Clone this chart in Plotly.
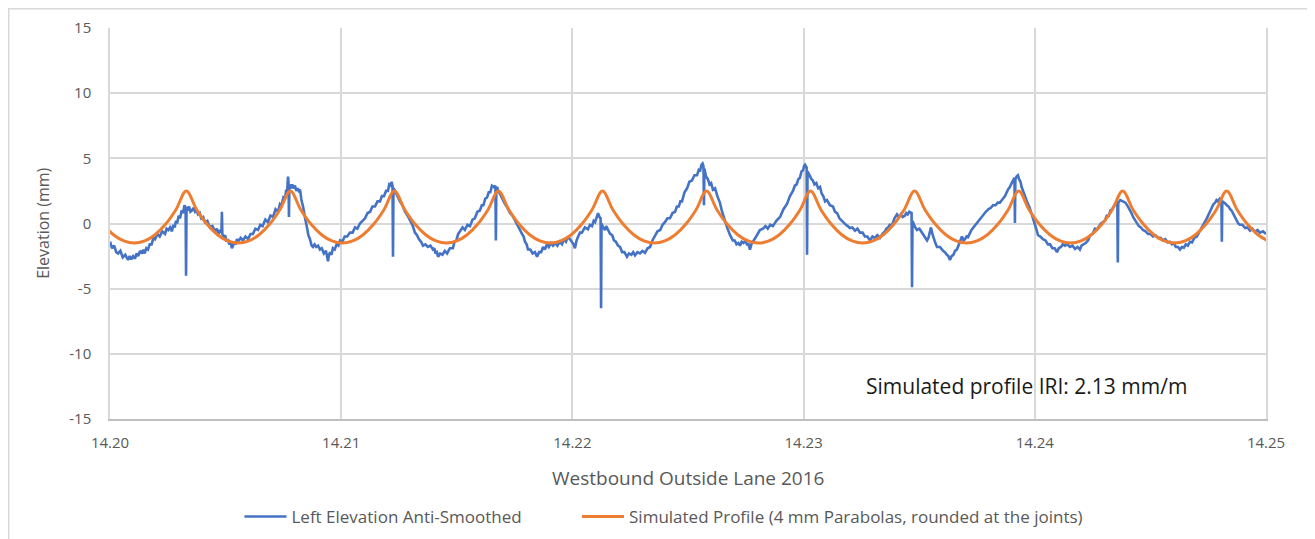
import plotly.graph_objects as go

# ---------------- data ----------------
left_x = [
    14.20000, 14.20009, 14.20018, 14.20027, 14.20035, 14.20045, 14.20055, 14.20066, 14.20078, 14.20085,
    14.20092, 14.20100, 14.20108, 14.20115, 14.20122, 14.20130, 14.20138, 14.20144, 14.20150, 14.20157,
    14.20164, 14.20172, 14.20180, 14.20188, 14.20195, 14.20205, 14.20215, 14.20226, 14.20238, 14.20245,
    14.20252, 14.20260, 14.20268, 14.20274, 14.20280, 14.20285, 14.20290, 14.20297, 14.20303, 14.20310,
    14.20316, 14.20322, 14.20327, 14.20329, 14.20331, 14.20336, 14.20342, 14.20348, 14.20355, 14.20361,
    14.20368, 14.20374, 14.20381, 14.20388, 14.20395, 14.20403, 14.20411, 14.20421, 14.20432, 14.20443,
    14.20454, 14.20462, 14.20470, 14.20476, 14.20482, 14.20484, 14.20486, 14.20492, 14.20498, 14.20504,
    14.20510, 14.20516, 14.20522, 14.20527, 14.20532, 14.20538, 14.20544, 14.20549, 14.20554, 14.20565,
    14.20575, 14.20586, 14.20597, 14.20608, 14.20618, 14.20629, 14.20640, 14.20650, 14.20660, 14.20672,
    14.20683, 14.20694, 14.20705, 14.20716, 14.20727, 14.20735, 14.20742, 14.20750, 14.20757, 14.20762,
    14.20766, 14.20770, 14.20772, 14.20774, 14.20776, 14.20782, 14.20788, 14.20794, 14.20800, 14.20806,
    14.20812, 14.20817, 14.20822, 14.20828, 14.20835, 14.20840, 14.20845, 14.20852, 14.20858, 14.20865,
    14.20872, 14.20878, 14.20885, 14.20892, 14.20900, 14.20908, 14.20916, 14.20925, 14.20934, 14.20943,
    14.20947, 14.20952, 14.20958, 14.20964, 14.20972, 14.20980, 14.20988, 14.20995, 14.21005, 14.21015,
    14.21026, 14.21038, 14.21049, 14.21060, 14.21070, 14.21081, 14.21092, 14.21103, 14.21114, 14.21125,
    14.21135, 14.21146, 14.21157, 14.21168, 14.21176, 14.21185, 14.21194, 14.21202, 14.21208, 14.21215,
    14.21218, 14.21222, 14.21224, 14.21226, 14.21233, 14.21240, 14.21247, 14.21254, 14.21265, 14.21276,
    14.21287, 14.21298, 14.21308, 14.21319, 14.21328, 14.21336, 14.21345, 14.21354, 14.21364, 14.21375,
    14.21386, 14.21397, 14.21403, 14.21408, 14.21414, 14.21419, 14.21428, 14.21438, 14.21448, 14.21458,
    14.21470, 14.21483, 14.21490, 14.21498, 14.21506, 14.21514, 14.21525, 14.21535, 14.21546, 14.21557,
    14.21568, 14.21578, 14.21589, 14.21600, 14.21608, 14.21615, 14.21623, 14.21631, 14.21638, 14.21645,
    14.21652, 14.21660, 14.21667, 14.21669, 14.21671, 14.21675, 14.21678, 14.21686, 14.21693, 14.21700,
    14.21708, 14.21719, 14.21730, 14.21741, 14.21752, 14.21767, 14.21782, 14.21789, 14.21795, 14.21802,
    14.21808, 14.21818, 14.21828, 14.21838, 14.21847, 14.21856, 14.21865, 14.21873, 14.21881, 14.21890,
    14.21898, 14.21907, 14.21916, 14.21926, 14.21935, 14.21945, 14.21955, 14.21963, 14.21972, 14.21981,
    14.21990, 14.22000, 14.22005, 14.22011, 14.22018, 14.22025, 14.22033, 14.22041, 14.22054, 14.22067,
    14.22076, 14.22085, 14.22092, 14.22098, 14.22105, 14.22111, 14.22117, 14.22122, 14.22124, 14.22126,
    14.22133, 14.22141, 14.22146, 14.22150, 14.22156, 14.22163, 14.22172, 14.22180, 14.22188, 14.22197,
    14.22206, 14.22215, 14.22225, 14.22236, 14.22245, 14.22255, 14.22263, 14.22271, 14.22281, 14.22292,
    14.22303, 14.22314, 14.22325, 14.22336, 14.22346, 14.22357, 14.22368, 14.22380, 14.22390, 14.22400,
    14.22411, 14.22422, 14.22433, 14.22444, 14.22452, 14.22460, 14.22467, 14.22474, 14.22485, 14.22496,
    14.22506, 14.22517, 14.22528, 14.22539, 14.22546, 14.22552, 14.22558, 14.22563, 14.22567, 14.22569,
    14.22571, 14.22578, 14.22586, 14.22593, 14.22600, 14.22608, 14.22617, 14.22627, 14.22638, 14.22646,
    14.22655, 14.22662, 14.22669, 14.22682, 14.22694, 14.22702, 14.22710, 14.22718, 14.22725, 14.22732,
    14.22740, 14.22748, 14.22755, 14.22762, 14.22768, 14.22774, 14.22780, 14.22789, 14.22798, 14.22811,
    14.22824, 14.22835, 14.22845, 14.22856, 14.22867, 14.22882, 14.22898, 14.22913, 14.22928, 14.22941,
    14.22954, 14.22962, 14.22970, 14.22977, 14.22984, 14.22991, 14.22998, 14.23002, 14.23006, 14.23013,
    14.23015, 14.23017, 14.23022, 14.23028, 14.23034, 14.23040, 14.23047, 14.23055, 14.23063, 14.23071,
    14.23078, 14.23085, 14.23093, 14.23101, 14.23114, 14.23127, 14.23136, 14.23145, 14.23155, 14.23166,
    14.23175, 14.23183, 14.23191, 14.23200, 14.23211, 14.23222, 14.23233, 14.23244, 14.23255, 14.23265,
    14.23276, 14.23287, 14.23298, 14.23308, 14.23319, 14.23330, 14.23341, 14.23352, 14.23358, 14.23365,
    14.23373, 14.23382, 14.23393, 14.23404, 14.23412, 14.23420, 14.23429, 14.23438, 14.23444, 14.23450,
    14.23457, 14.23464, 14.23467, 14.23469, 14.23471, 14.23480, 14.23490, 14.23501, 14.23512, 14.23523,
    14.23534, 14.23540, 14.23545, 14.23551, 14.23557, 14.23563, 14.23570, 14.23577, 14.23590, 14.23603,
    14.23611, 14.23620, 14.23626, 14.23633, 14.23640, 14.23648, 14.23655, 14.23663, 14.23674, 14.23685,
    14.23692, 14.23698, 14.23705, 14.23711, 14.23726, 14.23741, 14.23750, 14.23760, 14.23768, 14.23776,
    14.23788, 14.23800, 14.23810, 14.23819, 14.23830, 14.23840, 14.23849, 14.23858, 14.23871, 14.23884,
    14.23892, 14.23900, 14.23906, 14.23912, 14.23914, 14.23916, 14.23921, 14.23927, 14.23932, 14.23938,
    14.23943, 14.23949, 14.23958, 14.23968, 14.23978, 14.23988, 14.24001, 14.24014, 14.24024, 14.24035,
    14.24046, 14.24057, 14.24066, 14.24076, 14.24086, 14.24096, 14.24104, 14.24113, 14.24121, 14.24130,
    14.24141, 14.24152, 14.24163, 14.24174, 14.24185, 14.24195, 14.24202, 14.24210, 14.24220, 14.24230,
    14.24240, 14.24250, 14.24260, 14.24269, 14.24286, 14.24303, 14.24311, 14.24320, 14.24327, 14.24334,
    14.24345, 14.24355, 14.24357, 14.24359, 14.24361, 14.24370, 14.24381, 14.24392, 14.24403, 14.24410,
    14.24418, 14.24425, 14.24433, 14.24441, 14.24450, 14.24459, 14.24468, 14.24479, 14.24490, 14.24500,
    14.24511, 14.24522, 14.24533, 14.24544, 14.24554, 14.24564, 14.24575, 14.24584, 14.24593, 14.24601,
    14.24610, 14.24619, 14.24628, 14.24636, 14.24645, 14.24653, 14.24662, 14.24671, 14.24680, 14.24690,
    14.24701, 14.24710, 14.24720, 14.24728, 14.24736, 14.24744, 14.24752, 14.24759, 14.24766, 14.24773,
    14.24780, 14.24786, 14.24792, 14.24800, 14.24807, 14.24809, 14.24811, 14.24820, 14.24831, 14.24838,
    14.24845, 14.24851, 14.24857, 14.24865, 14.24872, 14.24880, 14.24887, 14.24898, 14.24910, 14.24920,
    14.24931, 14.24941, 14.24952, 14.24963, 14.24974, 14.24987, 14.25000,
]
left_y = [
    -1.4, -1.9, -1.7, -2.2, -2.3, -2.1, -2.6, -2.4, -2.8, -2.5,
    -2.75, -2.5, -2.7, -2.3, -2.5, -2.1, -2.3, -2.0, -2.3, -1.9,
    -2.0, -1.6, -1.6, -1.1, -1.2, -0.8, -1.0, -0.6, -0.8, -0.4,
    -0.5, -0.3, -0.6, -0.1, -0.3, 0.2, 0.0, 0.6, 0.4, 1.0,
    0.8, 1.4, 1.2, -4.0, 1.3, 1.0, 1.3, 0.9, 1.0, 1.2,
    0.9, 1.0, 0.7, 0.8, 0.4, 0.5, 0.1, 0.2, -0.3, -0.2,
    -0.6, -0.4, -0.8, -0.5, -0.7, 0.9, -0.8, -1.1, -0.9, -1.4,
    -1.2, -1.6, -1.4, -1.9, -1.7, -1.4, -1.6, -1.2, -1.4, -1.1,
    -1.3, -1.0, -1.2, -0.8, -0.8, -0.4, -0.5, -0.1, -0.2, 0.3,
    0.1, 0.6, 0.5, 1.1, 0.9, 1.5, 1.4, 2.0, 1.9, 2.6,
    2.4, 3.6, 3.2, 0.5, 3.0, 2.7, 3.0, 2.7, 2.9, 2.5,
    2.7, 2.5, 2.6, 1.8, 1.3, 0.6, 0.3, -0.3, -0.9, -1.2,
    -1.7, -1.8, -1.6, -1.8, -1.7, -2.0, -1.9, -2.3, -2.1, -2.9,
    -2.4, -2.2, -2.4, -1.9, -2.0, -1.6, -1.7, -1.3, -1.4, -1.0,
    -1.0, -0.7, -0.7, -0.3, -0.4, 0.0, 0.2, 0.4, 0.8, 0.9,
    1.3, 1.3, 1.7, 1.7, 2.1, 2.1, 2.5, 2.5, 3.0, 2.9,
    3.2, 2.9, -2.55, 2.7, 2.5, 2.2, 2.0, 1.7, 1.4, 0.9,
    0.6, 0.2, -0.1, -0.7, -0.9, -1.2, -1.4, -1.7, -1.6, -1.8,
    -1.7, -2.0, -1.9, -2.3, -2.2, -2.55, -2.3, -2.4, -2.1, -2.3,
    -1.9, -1.9, -1.4, -1.3, -0.8, -0.6, -0.3, -0.5, -0.1, -0.2,
    0.3, 0.4, 0.9, 1.0, 1.4, 1.4, 1.9, 2.0, 2.4, 2.4,
    2.9, 2.8, 2.9, -1.3, 2.7, 2.8, 2.5, 2.3, 2.0, 1.8,
    1.5, 1.2, 0.8, 0.6, 0.2, -0.3, -0.8, -1.0, -1.4, -1.6,
    -2.0, -2.0, -2.3, -2.2, -2.55, -2.2, -2.2, -1.8, -2.0, -1.6,
    -1.8, -1.5, -1.7, -1.5, -1.7, -1.4, -1.6, -1.2, -1.4, -1.0,
    -1.2, -1.4, -1.6, -1.9, -1.3, -1.0, -0.7, -0.7, -0.3, -0.45,
    -0.1, -0.2, 0.2, 0.1, 0.5, 0.8, 0.5, 0.4, -6.5, 0.0,
    -0.3, -0.5, -0.2, -0.35, -0.5, -0.8, -0.9, -1.3, -1.4, -1.7,
    -1.8, -2.2, -2.2, -2.55, -2.3, -2.4, -2.2, -2.45, -2.2, -2.3,
    -2.1, -2.25, -1.9, -1.8, -1.3, -1.0, -0.6, -0.5, -0.1, 0.1,
    0.4, 0.4, 0.8, 0.9, 1.3, 1.3, 1.7, 1.7, 2.4, 2.7,
    3.2, 3.3, 3.7, 3.7, 4.1, 4.0, 4.5, 4.6, 4.4, 1.4,
    4.2, 3.6, 3.4, 3.0, 3.1, 2.6, 2.7, 2.1, 1.6, 1.0,
    0.5, 0.0, -0.3, -0.9, -1.3, -1.3, -1.6, -1.5, -1.7, -1.4,
    -1.5, -1.3, -1.6, -1.6, -2.0, -1.6, -1.4, -1.1, -0.9, -0.5,
    -0.4, -0.2, -0.4, -0.1, -0.2, 0.2, 0.5, 1.1, 1.5, 2.1,
    2.5, 2.9, 3.0, 3.4, 3.5, 4.0, 4.1, 4.4, 4.5, 4.3,
    -2.4, 4.0, 3.8, 3.6, 3.4, 3.3, 3.0, 3.1, 2.7, 2.8,
    2.3, 2.1, 1.7, 1.8, 1.4, 1.3, 0.9, 0.8, 0.4, 0.2,
    0.0, -0.1, -0.2, -0.35, -0.3, -0.55, -0.4, -0.7, -0.7, -1.0,
    -1.0, -1.3, -1.0, -1.1, -0.9, -1.1, -0.8, -0.6, -0.4, -0.3,
    -0.1, -0.15, 0.4, 0.7, 0.5, 0.7, 0.5, 0.6, 0.8, 0.7,
    0.9, 0.85, 0.8, -4.9, 0.2, -0.2, -0.5, -0.4, -0.7, -0.9,
    -1.3, -1.1, -0.8, -0.3, -0.8, -1.2, -1.5, -1.8, -1.8, -2.1,
    -2.2, -2.4, -2.5, -2.8, -2.5, -2.4, -2.1, -2.0, -1.5, -1.0,
    -1.3, -1.2, -1.0, -1.05, -0.5, -0.15, 0.1, 0.3, 0.5, 0.7,
    0.9, 1.1, 1.2, 1.4, 1.4, 1.6, 1.6, 1.8, 2.1, 2.6,
    2.8, 3.1, 3.3, 3.5, 0.04, 3.4, 3.6, 3.7, 3.4, 3.2,
    2.8, 2.5, 2.0, 1.6, 1.2, 0.7, -0.1, -0.9, -1.0, -1.2,
    -1.3, -1.6, -1.6, -1.9, -1.9, -2.2, -1.9, -1.8, -1.6, -1.7,
    -1.6, -1.8, -1.7, -1.95, -1.8, -2.0, -1.7, -1.6, -1.5, -1.3,
    -0.9, -0.8, -0.4, -0.45, 0.0, 0.2, 0.6, 0.6, 1.0, 1.1,
    1.4, 1.7, 1.6, -3.0, 1.6, 1.8, 1.7, 1.6, 1.3, 1.1,
    0.8, 0.5, 0.25, 0.0, -0.2, -0.3, -0.5, -0.6, -0.8, -0.8,
    -1.0, -0.9, -1.1, -1.1, -1.3, -1.2, -1.45, -1.4, -1.6, -1.5,
    -1.8, -1.8, -2.0, -1.8, -1.85, -1.6, -1.7, -1.4, -1.45, -1.1,
    -1.0, -0.7, -0.4, -0.1, 0.1, 0.4, 0.7, 1.0, 1.3, 1.5,
    1.6, 1.8, 1.7, 1.9, 1.8, -1.4, 1.7, 1.6, 1.4, 1.3,
    1.1, 1.0, 0.8, 0.5, 0.3, 0.0, -0.1, -0.1, -0.35, -0.3,
    -0.55, -0.4, -0.65, -0.5, -0.7, -0.6, -0.8,
]

sim_x = [
    14.19970, 14.20015, 14.20060, 14.20105, 14.20150, 14.20195, 14.20240, 14.20285,
    14.20330, 14.20375, 14.20420, 14.20465, 14.20510, 14.20555, 14.20600, 14.20645, 14.20690, 14.20735,
    14.20780, 14.20825, 14.20870, 14.20915, 14.20960, 14.21005, 14.21050, 14.21095, 14.21140, 14.21185,
    14.21230, 14.21275, 14.21320, 14.21365, 14.21410, 14.21455, 14.21500, 14.21545, 14.21590, 14.21635,
    14.21680, 14.21725, 14.21770, 14.21815, 14.21860, 14.21905, 14.21950, 14.21995, 14.22040, 14.22085,
    14.22130, 14.22175, 14.22220, 14.22265, 14.22310, 14.22355, 14.22400, 14.22445, 14.22490, 14.22535,
    14.22580, 14.22625, 14.22670, 14.22715, 14.22760, 14.22805, 14.22850, 14.22895, 14.22940, 14.22985,
    14.23030, 14.23075, 14.23120, 14.23165, 14.23210, 14.23255, 14.23300, 14.23345, 14.23390, 14.23435,
    14.23480, 14.23525, 14.23570, 14.23615, 14.23660, 14.23705, 14.23750, 14.23795, 14.23840, 14.23885,
    14.23930, 14.23975, 14.24020, 14.24065, 14.24110, 14.24155, 14.24200, 14.24245, 14.24290, 14.24335,
    14.24380, 14.24425, 14.24470, 14.24515, 14.24560, 14.24605, 14.24650, 14.24695, 14.24740, 14.24785,
    14.24830, 14.24875, 14.24920, 14.24965, 14.25010,
]
sim_y = [
    -0.06, -0.86, -1.34, -1.5, -1.34, -0.86, -0.06, 1.06,
    2.5, 1.06, -0.06, -0.86, -1.34, -1.5, -1.34, -0.86, -0.06, 1.06,
    2.5, 1.06, -0.06, -0.86, -1.34, -1.5, -1.34, -0.86, -0.06, 1.06,
    2.5, 1.06, -0.06, -0.86, -1.34, -1.5, -1.34, -0.86, -0.06, 1.06,
    2.5, 1.06, -0.06, -0.86, -1.34, -1.5, -1.34, -0.86, -0.06, 1.06,
    2.5, 1.06, -0.06, -0.86, -1.34, -1.5, -1.34, -0.86, -0.06, 1.06,
    2.5, 1.06, -0.06, -0.86, -1.34, -1.5, -1.34, -0.86, -0.06, 1.06,
    2.5, 1.06, -0.06, -0.86, -1.34, -1.5, -1.34, -0.86, -0.06, 1.06,
    2.5, 1.06, -0.06, -0.86, -1.34, -1.5, -1.34, -0.86, -0.06, 1.06,
    2.5, 1.06, -0.06, -0.86, -1.34, -1.5, -1.34, -0.86, -0.06, 1.06,
    2.5, 1.06, -0.06, -0.86, -1.34, -1.5, -1.34, -0.86, -0.06, 1.06,
    2.5, 1.06, -0.06, -0.86, -1.34,
]
assert len(left_x) == len(left_y)
assert len(sim_x) == len(sim_y)

x_ticks = [14.20, 14.21, 14.22, 14.23, 14.24, 14.25]
x_tick_labels = ["14.20", "14.21", "14.22", "14.23", "14.24", "14.25"]
y_ticks = [-15, -10, -5, 0, 5, 10, 15]
y_tick_labels = ["-15", "-10", "-5", "0", "5", "10", "15"]

series_names = [
    "Left Elevation Anti-Smoothed",
    "Simulated Profile (4 mm Parabolas, rounded at the joints)",
]
x_title = "Westbound Outside Lane 2016"
y_title = "Elevation (mm)"
iri_note = "Simulated profile IRI: 2.13 mm/m"

# ---------------- figure ----------------
FONT = "Open Sans, Liberation Sans, sans-serif"
GREY_TXT = "#595959"
GRID = "#d9d9d9"

fig = go.Figure()
fig.add_trace(go.Scatter(
    x=left_x, y=left_y, mode="lines", name=series_names[0],
    line=dict(color="#4472C4", width=2.6), legend="legend",
))
fig.add_trace(go.Scatter(
    x=sim_x, y=sim_y, mode="lines", name=series_names[1],
    line=dict(color="#ED7D31", width=3.0, shape="spline", smoothing=1.0),
    legend="legend2",
))

legend_common = dict(
    orientation="h", xanchor="left", yref="container", y=0.0414, yanchor="middle",
    font=dict(size=17, color=GREY_TXT), bgcolor="rgba(0,0,0,0)",
    itemwidth=42,
)

fig.update_layout(
    width=1307, height=531,
    margin=dict(l=102, r=49, t=20, b=120, autoexpand=False),
    paper_bgcolor="white", plot_bgcolor="white",
    font=dict(family=FONT, color=GREY_TXT, size=15),
    showlegend=True,
    legend=dict(x=0.112, **legend_common),
    legend2=dict(x=0.404, **legend_common),
    xaxis=dict(
        range=[14.20, 14.25], tickvals=x_ticks, ticktext=x_tick_labels,
        showgrid=True, gridcolor=GRID, gridwidth=1.5, zeroline=False,
        showline=True, linecolor="#bfbfbf", linewidth=1.5, mirror=False,
        ticks="", ticklabelstandoff=9, tickfont=dict(size=15, color=GREY_TXT),
        automargin=False,
    ),
    yaxis=dict(
        range=[-15, 15], tickvals=y_ticks, ticktext=y_tick_labels,
        showgrid=True, gridcolor=GRID, gridwidth=1.5, zeroline=False,
        showline=True, linecolor=GRID, linewidth=1.5, mirror=True,
        ticks="", ticklabelstandoff=14, tickfont=dict(size=15, color=GREY_TXT),
        automargin=False,
    ),
    annotations=[
        dict(text=x_title, xref="paper", yref="paper", x=0.5, y=-0.151,
             xanchor="center", yanchor="middle", showarrow=False,
             font=dict(size=19, color=GREY_TXT)),
        dict(text=y_title, xref="paper", yref="paper", x=-0.0585, y=0.5,
             xanchor="center", yanchor="middle", showarrow=False, textangle=-90,
             font=dict(size=16, color=GREY_TXT)),
        dict(text=iri_note, xref="paper", yref="paper", x=0.7924, y=0.0844,
             xanchor="center", yanchor="middle", showarrow=False,
             font=dict(size=21, color="#1a1a1a")),
    ],
    shapes=[
        dict(type="rect", xref="paper", yref="paper",
             x0=-0.0876, x1=1.038, y0=-0.34, y1=1.0492,
             line=dict(color=GRID, width=1.5), fillcolor="rgba(0,0,0,0)", layer="below"),
    ],
)

fig.write_html("out.html")
